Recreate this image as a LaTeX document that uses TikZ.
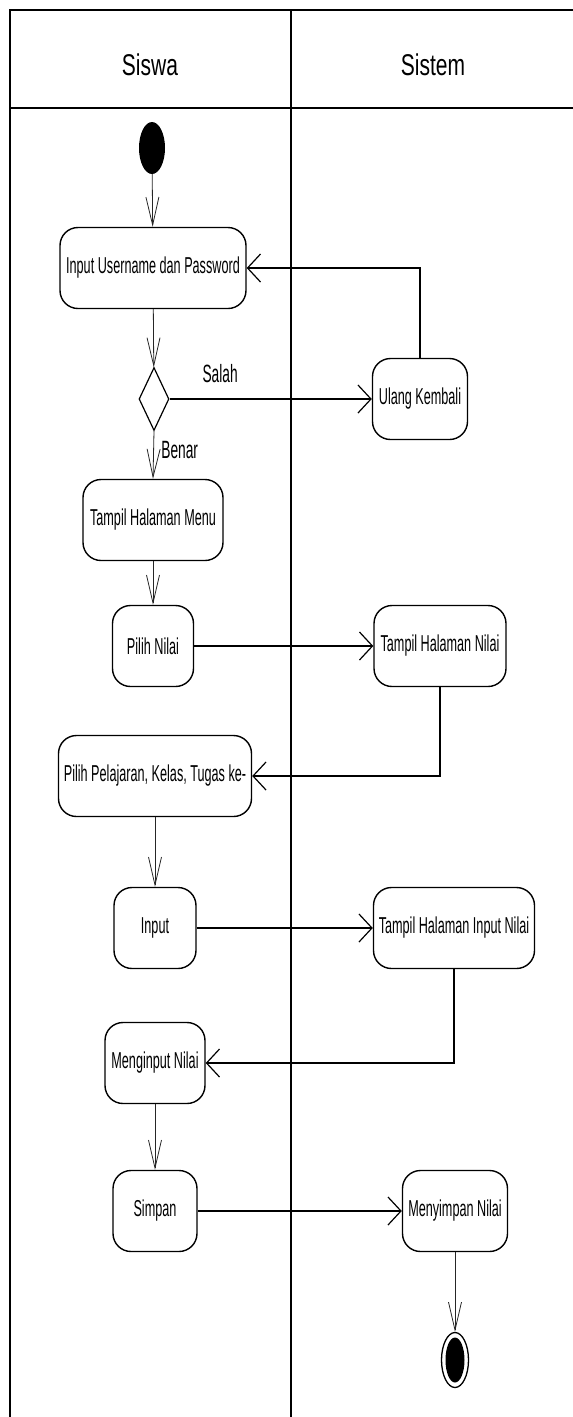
\documentclass[tikz,border=0pt]{standalone}
\usepackage{fontspec}
\setmainfont{Liberation Sans}
\newfontfamily\actfont[FakeStretch=0.55]{Liberation Sans}
\newfontfamily\lanefont[FakeStretch=0.7]{Liberation Sans}
\usetikzlibrary{arrows.meta}
\usetikzlibrary{shapes.geometric}

\begin{document}
\begin{tikzpicture}[x=1pt,y=-1pt
  ,act/.style={draw,line width=1.4pt,rounded corners=18pt,minimum height=81pt,inner sep=0pt
              ,font=\actfont\fontsize{23}{27}\selectfont}
  ,lbl/.style={font=\actfont\fontsize{25}{29}\selectfont}
  ,lane/.style={font=\lanefont\fontsize{30}{34}\selectfont}
  ,vflow/.style={line width=0.8pt,draw=black!85,-{Straight Barb[length=28pt,width=13pt]}}
  ,hflow/.style={line width=1.2pt,-{Straight Barb[length=13pt,width=28pt]}}
  ]
\useasboundingbox (0,0) rectangle (573,1417);
% swimlanes
\draw[line width=1.3pt] (573,10) -- (10,10) -- (10,1417) (10,108) -- (573,108);
\draw[line width=1.1pt] (291,10) -- (291,1417);
\node[lane] (siswa) at (150,65) {Siswa};
\node[lane] (sistem) at (433,65) {Sistem};

% activities
\node[ellipse,fill=black,minimum width=26pt,minimum height=52pt,inner sep=0pt] (start) at (152,148) {};
\node[act,minimum width=186pt] (login) at (153,268) {Input Username dan Password};
\node[diamond,draw,line width=1.2pt,minimum width=30pt,minimum height=63pt,inner sep=0pt] (cek) at (154,399) {};
\node[act,minimum width=95pt] (ulang) at (420,399) {Ulang Kembali};
\node[act,minimum width=140pt] (menu) at (153,520) {Tampil Halaman Menu};
\node[act,minimum width=81pt] (pilih) at (153,646) {Pilih Nilai};
\node[act,minimum width=132pt] (hnilai) at (440,646) {Tampil Halaman Nilai};
\node[act,minimum width=193pt] (pelajaran) at (155,776) {Pilih Pelajaran, Kelas, Tugas ke-};
\node[act,minimum width=82pt] (input) at (155,928) {Input};
\node[act,minimum width=161pt] (hinput) at (454,928) {Tampil Halaman Input Nilai};
\node[act,minimum width=100pt] (menginput) at (155,1063) {Menginput Nilai};
\node[act,minimum width=84pt] (simpan) at (155,1211) {Simpan};
\node[act,minimum width=105pt] (menyimpan) at (455,1211) {Menyimpan Nilai};
\node[ellipse,draw,line width=1.3pt,minimum width=27pt,minimum height=55pt,inner sep=0pt] (end) at (455,1360) {};
\node[ellipse,fill=black,minimum width=19pt,minimum height=45pt,inner sep=0pt] (endin) at (end) {};

% flows
\draw[vflow] (start) -- (login);
\draw[vflow] (login) -- (cek);
\draw[hflow] (cek.east) -- node[lbl,above=12pt,pos=0.25] {Salah} (ulang.west);
\draw[hflow] (ulang.north) |- (login.east);
\draw[vflow] (cek.south) -- node[lbl,right=4pt,pos=0.4] {Benar} (menu.north);
\draw[vflow] (menu) -- (pilih);
\draw[hflow] (pilih) -- (hnilai);
\draw[hflow] (hnilai.south) |- (pelajaran.east);
\draw[vflow] (pelajaran) -- (input);
\draw[hflow] (input) -- (hinput);
\draw[hflow] (hinput.south) |- (menginput.east);
\draw[vflow] (menginput) -- (simpan);
\draw[hflow] (simpan) -- (menyimpan);
\draw[vflow] (menyimpan) -- (end);
\end{tikzpicture}
\end{document}
